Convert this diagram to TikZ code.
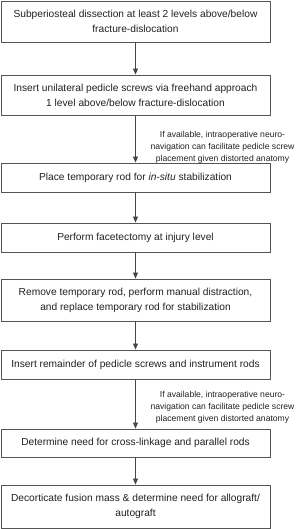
\documentclass[tikz,border=0pt]{standalone}
\usepackage{fontspec}
\setmainfont{Liberation Sans}
\usetikzlibrary{positioning,arrows.meta}
\definecolor{boxborder}{RGB}{85,85,85}
\definecolor{textcol}{RGB}{35,31,32}
\definecolor{arrowcol}{RGB}{70,70,70}

\begin{document}
\begin{tikzpicture}[
                x=1pt, y=-1pt,
                font=\fontsize{10.2}{15}\selectfont,
                >={Triangle[length=6pt, width=5pt]},
                stepbox/.style={rectangle, draw=boxborder, line width=0.9pt, text=textcol, minimum width=269pt, inner sep=0pt, align=center},
                notelabel/.style={font=\fontsize{8.6}{12.2}\selectfont, align=center, text=textcol},
                arrow/.style={->, line width=0.8pt, draw=arrowcol}
                ]
                \useasboundingbox (0,0) rectangle (300,529);

                \node[stepbox, minimum height=41pt] (s1) at (135.5,21.5) {Subperiosteal dissection at least 2 levels above/below\\fracture-dislocation};
                \node[stepbox, minimum height=40pt] (s2) at (135.5,95) {Insert unilateral pedicle screws via freehand approach\\1 level above/below fracture-dislocation};
                \node[stepbox, minimum height=29pt] (s3) at (135.5,177.5) {Place temporary rod for \textit{in-situ} stabilization};
                \node[stepbox, minimum height=29pt] (s4) at (135.5,237.5) {Perform facetectomy at injury level};
                \node[stepbox, minimum height=42pt] (s5) at (135.5,300) {Remove temporary rod, perform manual distraction,\\and replace temporary rod for stabilization};
                \node[stepbox, minimum height=29pt] (s6) at (135.5,364.5) {Insert remainder of pedicle screws and instrument rods};
                \node[stepbox, minimum height=28pt] (s7) at (135.5,443) {Determine need for cross-linkage and parallel rods};
                \node[stepbox, minimum height=43pt] (s8) at (135.5,506.5) {Decorticate fusion mass \& determine need for allograft/\\autograft};

                \node[notelabel] (nav1) at (222.5,147) {If available, intraoperative neuro-\\navigation can facilitate pedicle screw\\placement given distorted anatomy};
                \node[notelabel] (nav2) at (222.5,407) {If available, intraoperative neuro-\\navigation can facilitate pedicle screw\\placement given distorted anatomy};

                \draw[arrow] (s1) -- (s2);
                \draw[arrow] (s2) -- (s3);
                \draw[arrow] (s3) -- (s4);
                \draw[arrow] (s4) -- (s5);
                \draw[arrow] (s5) -- (s6);
                \draw[arrow] (s6) -- (s7);
                \draw[arrow] (s7) -- (s8);
            \end{tikzpicture}
\end{document}
